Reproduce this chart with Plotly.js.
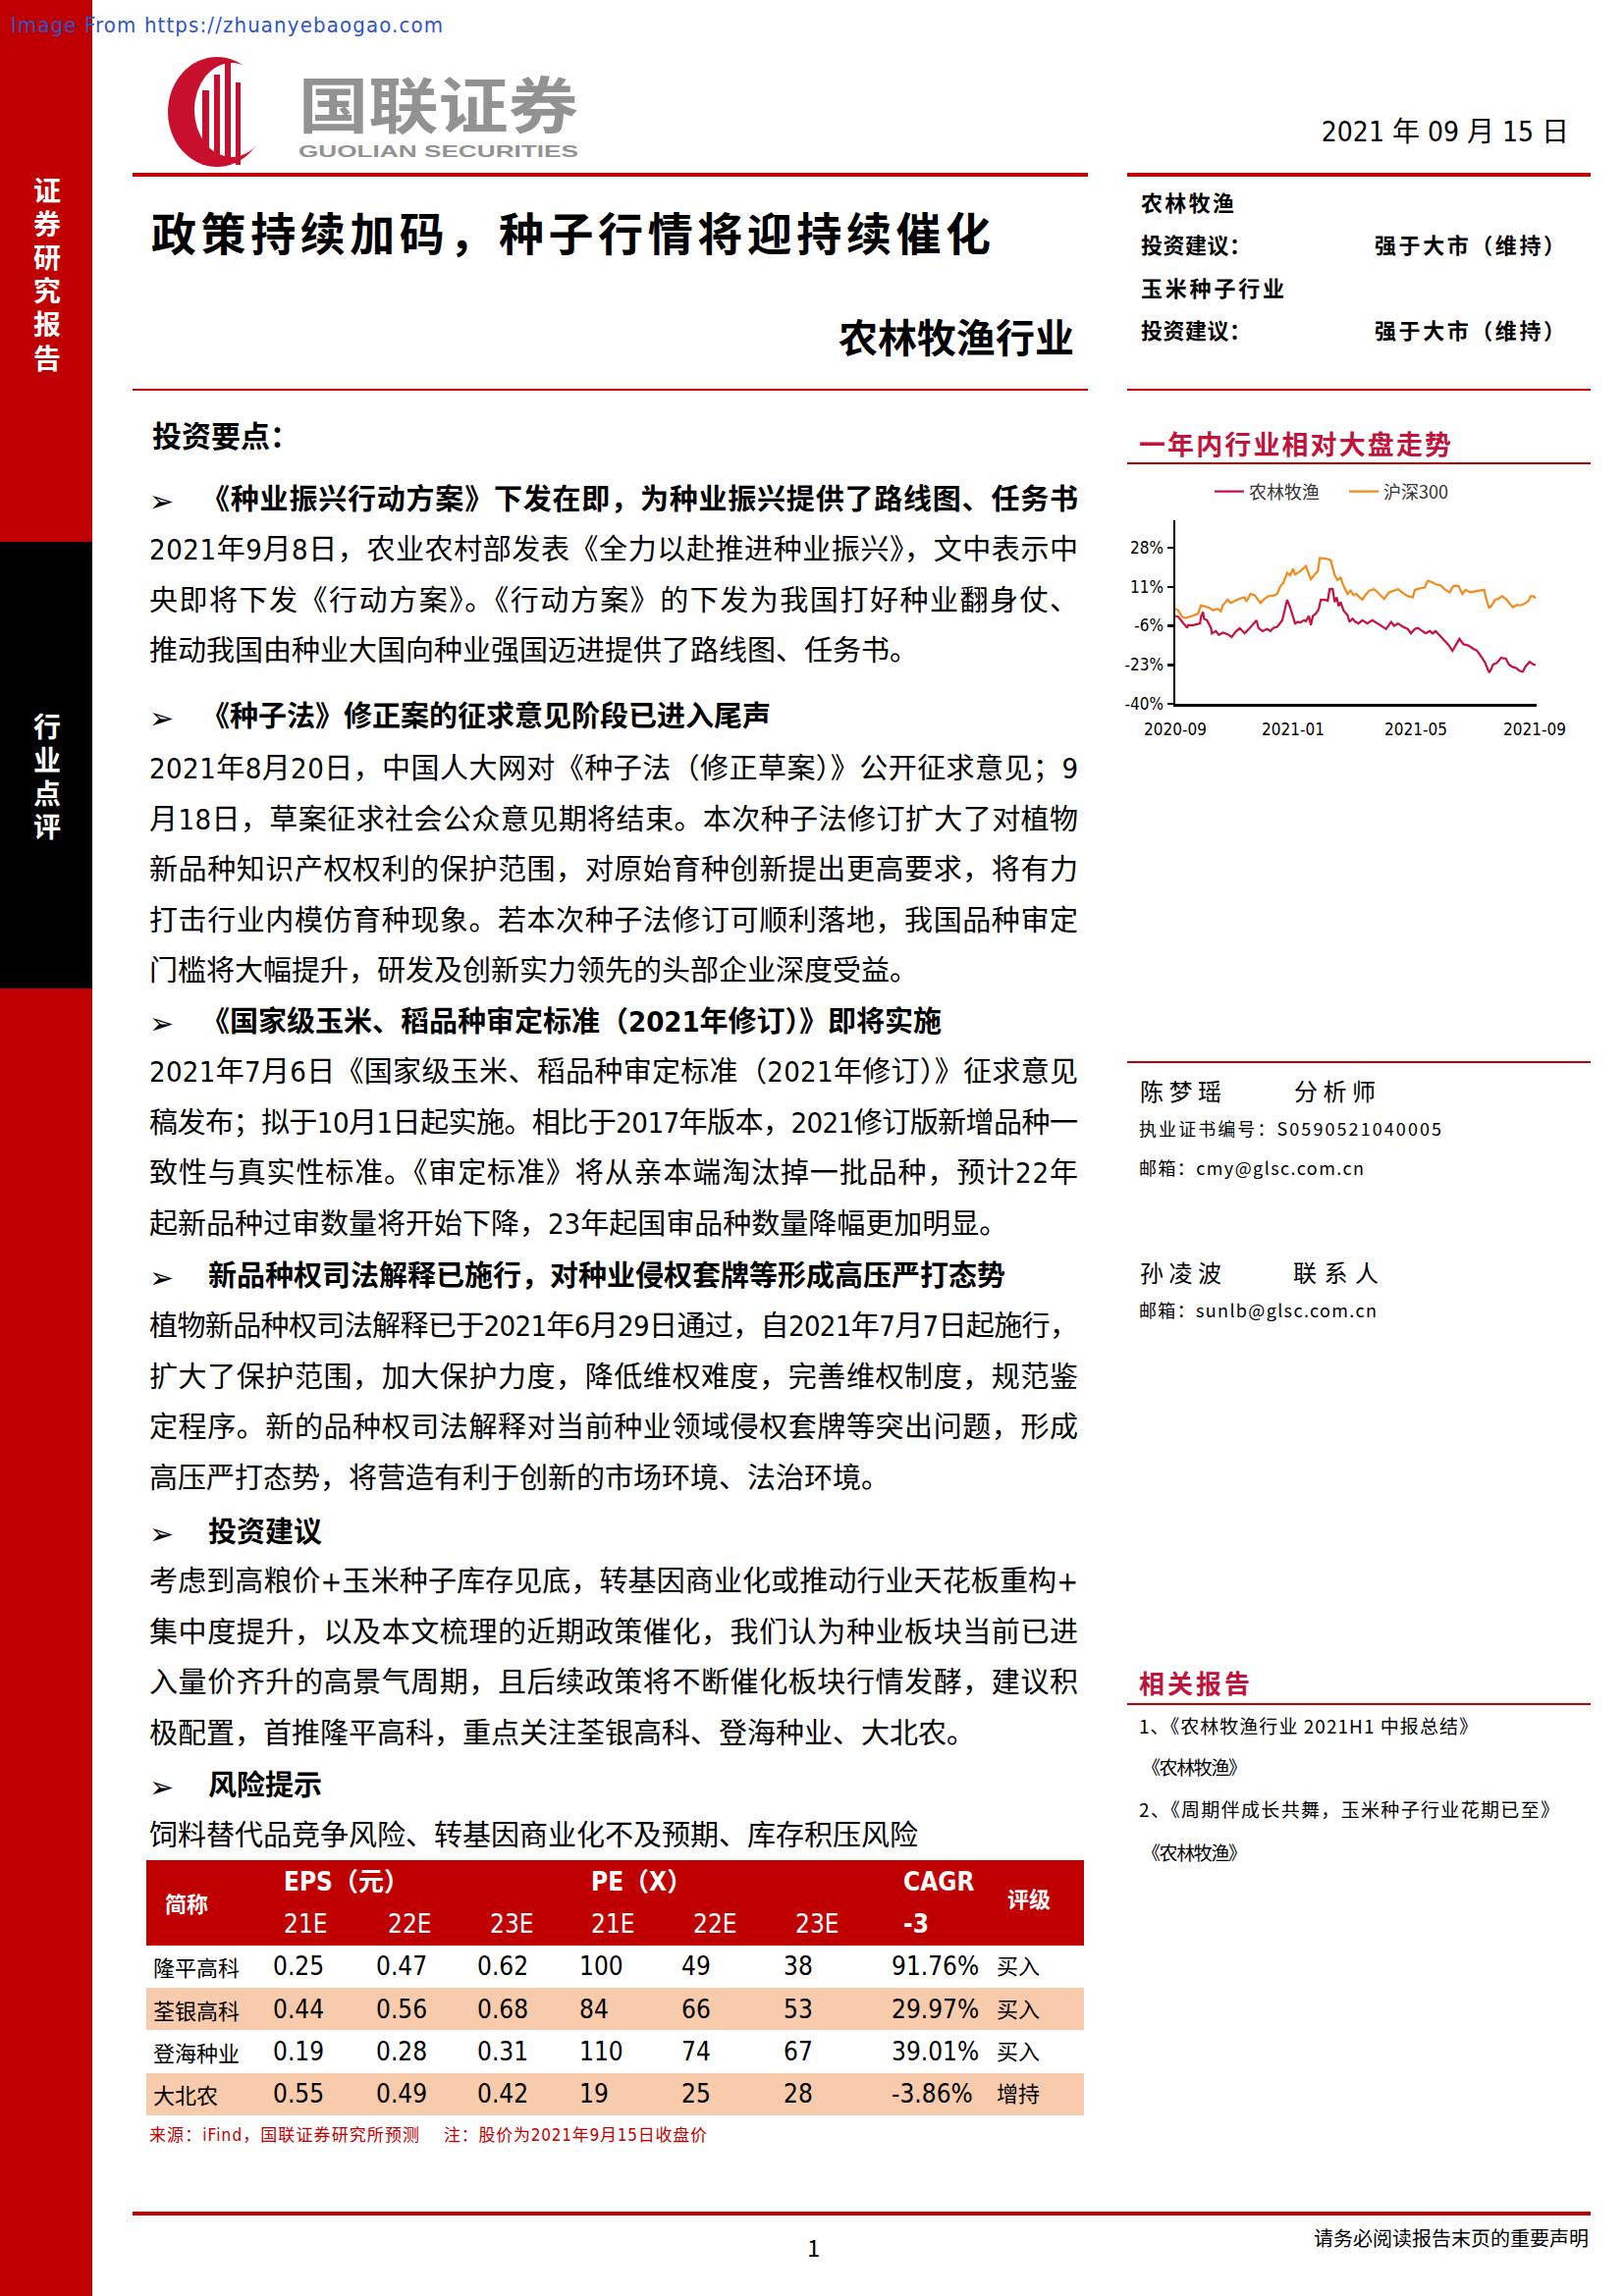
<!DOCTYPE html>
<html>
<head>
<meta charset="utf-8">
<script src="https://cdn.plot.ly/plotly-3.0.1.min.js"></script>
<style>
html, body { margin: 0; padding: 0; background: #fff; }
body { width: 1654px; height: 2339px; position: relative; overflow: hidden;
       font-family: "Liberation Sans Narrow", "Noto Sans CJK SC", sans-serif; color: #000; }
.t { position: absolute; white-space: nowrap; }
.bar { position: absolute; }
.vert { position: absolute; writing-mode: vertical-rl; color: #fff; font-weight: 700;
        font-family: "Noto Sans CJK SC", sans-serif; font-size: 28px; line-height: 28px; white-space: nowrap; }
#chart { position: absolute; left: 1120px; top: 485px; width: 510px; height: 290px; }
</style>
</head>
<body>
<div class="bar" style="left:0;top:0;width:94px;height:2339px;background:#c00000"></div>
<div class="bar" style="left:0;top:552px;width:94px;height:455px;background:#000"></div>
<div class="bar" style="left:135px;top:176px;width:973px;height:4px;background:#c00000"></div>
<div class="bar" style="left:1148px;top:176px;width:472px;height:4px;background:#c00000"></div>
<div class="bar" style="left:135px;top:396px;width:973px;height:2px;background:#c00000"></div>
<div class="bar" style="left:1148px;top:396px;width:472px;height:2px;background:#c00000"></div>
<div class="bar" style="left:1148px;top:471px;width:472px;height:2px;background:#c00000"></div>
<div class="bar" style="left:1148px;top:1081px;width:472px;height:2px;background:#c00000"></div>
<div class="bar" style="left:1148px;top:1735px;width:472px;height:2px;background:#c00000"></div>
<div class="bar" style="left:135px;top:2253px;width:1485px;height:4px;background:#c00000"></div>

<div class="vert" style="left:34px;top:180px;letter-spacing:6.2px">证券研究报告</div>
<div class="vert" style="left:34px;top:726px;letter-spacing:6px">行业点评</div>

<svg style="position:absolute;left:150px;top:50px" width="460" height="130" viewBox="150 50 460 130">
  <ellipse cx="221" cy="114" rx="50" ry="56" fill="#c8102e"/>
  <ellipse cx="236" cy="112" rx="38" ry="48" fill="#fff"/>
  <rect x="206" y="92" width="7" height="76" fill="#c8102e"/>
  <rect x="218" y="76" width="6" height="92" fill="#c8102e"/>
  <rect x="229" y="60" width="6" height="108" fill="#c8102e"/>
  <rect x="240" y="84" width="5" height="84" fill="#c8102e"/>
  <text x="304" y="131" font-family="Noto Sans CJK SC" font-weight="700" font-size="62"
        fill="#929292" textLength="285" lengthAdjust="spacingAndGlyphs">国联证券</text>
  <text x="304" y="160" font-family="Liberation Sans" font-weight="700" font-size="16"
        fill="#929292" textLength="285" lengthAdjust="spacingAndGlyphs">GUOLIAN SECURITIES</text>
</svg>

<div id="chart"></div>

<script>
// ---- chart data (percent, relative performance) ----
const redDates = [
  "2020-09-16","2020-09-19","2020-09-23","2020-09-28","2020-09-29","2020-10-04","2020-10-11","2020-10-12","2020-10-14","2020-10-15",
  "2020-10-18","2020-10-22","2020-10-23","2020-10-27","2020-10-30","2020-11-03","2020-11-08","2020-11-12","2020-11-16","2020-11-20",
  "2020-11-23","2020-11-25","2020-11-30","2020-12-03","2020-12-07","2020-12-09","2020-12-13","2020-12-18","2020-12-21","2020-12-24",
  "2020-12-28","2021-01-02","2021-01-04","2021-01-07","2021-01-10","2021-01-13","2021-01-15","2021-01-18","2021-01-20","2021-01-24",
  "2021-01-26","2021-01-29","2021-01-31","2021-02-02","2021-02-05","2021-02-08","2021-02-10","2021-02-14","2021-02-17","2021-02-19",
  "2021-02-22","2021-02-24","2021-02-26","2021-02-28","2021-03-02","2021-03-05","2021-03-09","2021-03-11","2021-03-14","2021-03-17",
  "2021-03-20","2021-03-24","2021-03-29","2021-04-03","2021-04-06","2021-04-11","2021-04-17","2021-04-22","2021-04-25","2021-04-29",
  "2021-05-04","2021-05-09","2021-05-12","2021-05-16","2021-05-19","2021-05-24","2021-05-27","2021-05-31","2021-06-03","2021-06-06",
  "2021-06-11","2021-06-15","2021-06-19","2021-06-23","2021-06-26","2021-06-30","2021-07-04","2021-07-09","2021-07-13","2021-07-18",
  "2021-07-23","2021-07-26","2021-07-30","2021-08-01","2021-08-03","2021-08-07","2021-08-11","2021-08-16","2021-08-19","2021-08-23",
  "2021-08-26","2021-08-30","2021-09-02","2021-09-05","2021-09-09","2021-09-13","2021-09-15"
];
const redVals = [
  -1.7, -2.1, -4.3, -6.9, -5.7, -5.7, -5.0, -2.1, 0.0, -2.9,
  -3.6, -6.9, -9.3, -8.3, -10.0, -9.0, -9.7, -10.9, -8.6, -7.1,
  -8.3, -9.3, -7.1, -5.7, -3.6, -6.9, -8.3, -7.4, -8.3, -6.9,
  -6.4, -3.6, 0.0, 5.3, 2.1, -2.1, -5.0, -4.3, -4.6, -3.6,
  -4.0, -1.7, -5.7, -1.7, -0.7, 1.4, 5.4, 5.3, 5.0, 10.0,
  10.0, 4.3, 6.4, 2.6, 4.3, 0.7, -1.4, -4.3, -2.9, -4.3,
  -5.0, -3.6, -5.0, -3.6, -4.3, -5.7, -7.4, -4.3, -6.0, -5.0,
  -6.4, -7.4, -9.3, -7.4, -6.9, -8.3, -9.3, -8.3, -9.3, -8.3,
  -10.7, -12.6, -14.3, -16.9, -14.6, -11.7, -14.0, -14.6, -15.7, -16.9,
  -20.0, -22.1, -26.4, -25.0, -22.9, -22.1, -20.0, -20.3, -22.9, -24.0,
  -24.3, -25.7, -26.0, -23.6, -21.7, -22.9, -23.1
];
const orangeDates = [
  "2020-09-16","2020-09-19","2020-09-23","2020-09-26","2020-10-03","2020-10-09","2020-10-12","2020-10-18","2020-10-21","2020-10-24",
  "2020-10-29","2020-11-01","2020-11-03","2020-11-08","2020-11-11","2020-11-16","2020-11-21","2020-11-25","2020-11-27","2020-12-01",
  "2020-12-05","2020-12-08","2020-12-11","2020-12-15","2020-12-19","2020-12-24","2020-12-28","2020-12-31","2021-01-03","2021-01-07",
  "2021-01-10","2021-01-13","2021-01-15","2021-01-19","2021-01-22","2021-01-26","2021-01-29","2021-01-31","2021-02-04","2021-02-07",
  "2021-02-09","2021-02-15","2021-02-20","2021-02-24","2021-02-27","2021-03-02","2021-03-05","2021-03-09","2021-03-12","2021-03-15",
  "2021-03-18","2021-03-20","2021-03-24","2021-03-27","2021-03-31","2021-04-05","2021-04-10","2021-04-15","2021-04-20","2021-04-25",
  "2021-04-29","2021-05-04","2021-05-09","2021-05-14","2021-05-16","2021-05-21","2021-05-26","2021-05-29","2021-06-02","2021-06-06",
  "2021-06-11","2021-06-15","2021-06-20","2021-06-24","2021-06-29","2021-07-03","2021-07-06","2021-07-11","2021-07-16","2021-07-21",
  "2021-07-25","2021-07-27","2021-07-30","2021-08-02","2021-08-05","2021-08-08","2021-08-12","2021-08-16","2021-08-20","2021-08-23",
  "2021-08-27","2021-08-31","2021-09-05","2021-09-08","2021-09-10","2021-09-13","2021-09-15"
];
const orangeVals = [
  1.4, 0.7, -2.1, -2.6, -1.7, -0.7, 2.9, 2.1, 1.7, 0.7,
  1.4, 0.3, 2.9, 5.4, 4.0, 5.0, 6.0, 6.4, 4.6, 7.9,
  7.4, 5.7, 3.9, 5.7, 6.9, 7.1, 7.9, 11.1, 12.6, 17.1,
  16.0, 18.9, 16.4, 17.4, 18.6, 20.0, 16.4, 14.3, 16.4, 17.9,
  23.6, 23.3, 22.6, 16.0, 14.0, 15.0, 11.4, 7.9, 9.3, 7.4,
  7.9, 6.9, 5.4, 7.4, 9.3, 10.0, 7.9, 5.7, 8.6, 9.3,
  10.0, 8.3, 6.9, 6.4, 9.7, 10.3, 10.7, 13.6, 13.1, 12.1,
  11.7, 10.0, 8.6, 11.4, 11.4, 7.9, 9.7, 8.6, 8.9, 9.3,
  9.7, 6.0, 1.7, 3.1, 5.4, 5.7, 6.9, 5.7, 3.6, 2.1,
  3.1, 2.9, 3.9, 5.0, 6.9, 6.9, 6.0
];
const seriesNames = ["农林牧渔", "沪深300"];
const yTickVals = [-40, -23, -6, 11, 28];
const yTickText = ["-40%", "-23%", "-6%", "11%", "28%"];
const yGridVals = [-20, 0, 20, 40];
const xLabelVals = ["2020-09-16", "2021-01-13", "2021-05-17", "2021-09-14"];
const xLabelText = ["2020-09", "2021-01", "2021-05", "2021-09"];
const xTickVals = ["2021-01-01", "2021-05-01", "2021-09-01"];

// ---- table data ----
const stockNames = ["隆平高科", "荃银高科", "登海种业", "大北农"];
const eps21 = ["0.25", "0.44", "0.19", "0.55"];
const eps22 = ["0.47", "0.56", "0.28", "0.49"];
const eps23 = ["0.62", "0.68", "0.31", "0.42"];
const pe21 = ["100", "84", "110", "19"];
const pe22 = ["49", "66", "74", "25"];
const pe23 = ["38", "53", "67", "28"];
const cagr = ["91.76%", "29.97%", "39.01%", "-3.86%"];
const ratings = ["买入", "买入", "买入", "增持"];

const CJK = '"Noto Sans CJK SC", sans-serif';
const NARROW = '"Liberation Sans Narrow", "DejaVu Sans Condensed", "Noto Sans CJK SC", sans-serif';

function txt(s, x, yc, size, css, w) {
    let d = document.createElement("div");
    d.className = "t";
    d.textContent = s;
    d.style.left = x + "px";
    d.style.top = (yc - size * 0.55) + "px";
    d.style.fontSize = size + "px";
    d.style.lineHeight = (size * 1.1) + "px";
    if (css) d.style.cssText += css;
    if (w) d.dataset.w = w;
    document.body.appendChild(d);
    return d;
}

function rightTxt(s, xr, yc, size, css) {
    let d = txt(s, 0, yc, size, css);
    d.style.left = (xr - d.getBoundingClientRect().width) + "px";
    return d;
}

// watermark
txt("Image From https://zhuanyebaogao.com", 11, 26, 22, "color:#2f55c8;font-family:" + NARROW, 440);

// header
rightTxt("2021 年 09 月 15 日", 1598, 135, 28, "font-family:" + NARROW);
txt("政策持续加码，种子行情将迎持续催化", 154, 235, 46, "font-weight:700;font-family:" + CJK, 855);
rightTxt("农林牧渔行业", 1094, 342, 40, "font-weight:700;font-family:" + CJK);

const B = "font-weight:700;font-family:" + CJK;
txt("农林牧渔", 1162, 205, 22, B, 95);
txt("投资建议：", 1162, 248, 22, B, 112);
txt("强于大市（维持）", 1400, 248, 22, B, 194);
txt("玉米种子行业", 1162, 292, 22, B, 146);
txt("投资建议：", 1162, 335, 22, B, 112);
txt("强于大市（维持）", 1400, 335, 22, B, 194);

txt("一年内行业相对大盘走势", 1160, 452, 27, "color:#c0143c;" + B, 318);

// analyst block
const R = "font-family:" + CJK;
txt("陈梦瑶", 1161, 1111, 24, R, 83);
txt("分析师", 1318, 1111, 24, R, 83);
txt("执业证书编号：S0590521040005", 1160, 1150, 18, R, 308);
txt("邮箱：cmy@glsc.com.cn", 1160, 1190, 18, R, 229);
txt("孙凌波", 1161, 1296, 24, R, 83);
txt("联系人", 1317, 1296, 24, R, 87);
txt("邮箱：sunlb@glsc.com.cn", 1160, 1335, 18, R, 242);

txt("相关报告", 1160, 1714, 26, "color:#c0143c;" + B, 113);
txt("1、《农林牧渔行业 2021H1 中报总结》", 1160, 1758, 19, R, 345);
txt("《农林牧渔》", 1163, 1800, 19, R, 107);
txt("2、《周期伴成长共舞，玉米种子行业花期已至》", 1160, 1843, 19, R, 428);
txt("《农林牧渔》", 1163, 1887, 19, R, 107);

// body
const BODY = "font-family:" + NARROW;
const HEAD = "font-weight:700;font-family:" + NARROW;
txt("投资要点：", 155, 444, 30, HEAD);

function heading(s, yc, w) {
    txt("➢", 152, yc, 30, "font-family:'DejaVu Sans'");
    txt(s, s.charAt(0) === "《" ? 205 : 212, yc, 29, HEAD, w);
}
function lines(arr, y0) {
    arr.forEach(function (s, i) {
        txt(s, 152, y0 + i * 51.6, 29, BODY, i < arr.length - 1 ? 946 : null);
    });
}

heading("《种业振兴行动方案》下发在即，为种业振兴提供了路线图、任务书", 510, 893);
lines(["2021年9月8日，农业农村部发表《全力以赴推进种业振兴》，文中表示中",
       "央即将下发《行动方案》。《行动方案》的下发为我国打好种业翻身仗、",
       "推动我国由种业大国向种业强国迈进提供了路线图、任务书。"], 561);

heading("《种子法》修正案的征求意见阶段已进入尾声", 731);
lines(["2021年8月20日，中国人大网对《种子法（修正草案）》公开征求意见；9",
       "月18日，草案征求社会公众意见期将结束。本次种子法修订扩大了对植物",
       "新品种知识产权权利的保护范围，对原始育种创新提出更高要求，将有力",
       "打击行业内模仿育种现象。若本次种子法修订可顺利落地，我国品种审定",
       "门槛将大幅提升，研发及创新实力领先的头部企业深度受益。"], 784);

heading("《国家级玉米、稻品种审定标准（2021年修订）》即将实施", 1042);
lines(["2021年7月6日《国家级玉米、稻品种审定标准（2021年修订）》征求意见",
       "稿发布；拟于10月1日起实施。相比于2017年版本，2021修订版新增品种一",
       "致性与真实性标准。《审定标准》将从亲本端淘汰掉一批品种，预计22年",
       "起新品种过审数量将开始下降，23年起国审品种数量降幅更加明显。"], 1093);

heading("新品种权司法解释已施行，对种业侵权套牌等形成高压严打态势", 1301);
lines(["植物新品种权司法解释已于2021年6月29日通过，自2021年7月7日起施行，",
       "扩大了保护范围，加大保护力度，降低维权难度，完善维权制度，规范鉴",
       "定程序。新的品种权司法解释对当前种业领域侵权套牌等突出问题，形成",
       "高压严打态势，将营造有利于创新的市场环境、法治环境。"], 1352);

heading("投资建议", 1562);
lines(["考虑到高粮价+玉米种子库存见底，转基因商业化或推动行业天花板重构+",
       "集中度提升，以及本文梳理的近期政策催化，我们认为种业板块当前已进",
       "入量价齐升的高景气周期，且后续政策将不断催化板块行情发酵，建议积",
       "极配置，首推隆平高科，重点关注荃银高科、登海种业、大北农。"], 1612);

heading("风险提示", 1820);
lines(["饲料替代品竞争风险、转基因商业化不及预期、库存积压风险"], 1871);

// table
function band(top, h, color) {
    let d = document.createElement("div");
    d.className = "bar";
    d.style.cssText = "left:149px;width:955px;top:" + top + "px;height:" + h + "px;background:" + color;
    document.body.appendChild(d);
}
band(1895, 87, "#c00000");
band(2025, 43, "#f8cbad");
band(2112, 43, "#f8cbad");

const HW = "color:#fff;font-family:" + NARROW;
txt("简称", 168, 1938, 22, "color:#fff;font-weight:700;font-family:" + CJK);
txt("EPS（元）", 289, 1917, 26, "font-weight:700;" + HW);
txt("PE（X）", 602, 1917, 26, "font-weight:700;" + HW);
txt("CAGR", 920, 1917, 26, "font-weight:700;" + HW);
txt("-3", 920, 1960, 26, "font-weight:700;" + HW);
txt("评级", 1026, 1933, 22, "color:#fff;font-weight:700;font-family:" + CJK);
["21E", "22E", "23E", "21E", "22E", "23E"].forEach(function (s, i) {
    txt(s, [289, 395, 499, 602, 706, 810][i], 1960, 26, HW);
});

const rowY = [2003, 2047, 2090, 2133];
const valCols = [eps21, eps22, eps23, pe21, pe22, pe23, cagr];
const valX = [278, 383, 486, 590, 694, 798, 908];
stockNames.forEach(function (name, r) {
    txt(name, 156, rowY[r], 22, "font-family:" + CJK);
    valCols.forEach(function (col, c) {
        txt(col[r], valX[c], rowY[r], 26, "font-family:" + NARROW);
    });
    txt(ratings[r], 1015, rowY[r] - 2, 22, "font-family:" + CJK);
});

txt("来源：iFind，国联证券研究所预测", 152, 2175, 17, "color:#c00000;font-family:" + NARROW, 275);
txt("注：股价为2021年9月15日收盘价", 452, 2175, 17, "color:#c00000;font-family:" + NARROW, 268);

// footer
txt("1", 822, 2289, 24, "font-family:" + CJK);
rightTxt("请务必阅读报告末页的重要声明", 1618, 2280, 20, "font-family:" + CJK);

// spread letters so each line fills its measured width
function fit() {
    document.querySelectorAll("[data-w]").forEach(function (el) {
        el.style.letterSpacing = "0px";
        let w = el.getBoundingClientRect().width;
        let n = Array.from(el.textContent).length;
        if (n > 1) el.style.letterSpacing = ((+el.dataset.w - w) / (n - 1)) + "px";
    });
}
fit();
document.fonts.ready.then(fit);

// ---- relative performance chart ----
let chartData = [
    { x: redDates, y: redVals, name: seriesNames[0], type: "scatter", mode: "lines",
      line: { color: "#c8103c", width: 2.2 }, hoverinfo: "skip" },
    { x: orangeDates, y: orangeVals, name: seriesNames[1], type: "scatter", mode: "lines",
      line: { color: "#f28a1c", width: 2.2 }, hoverinfo: "skip" }
];

let axisFont = { family: "Liberation Sans Narrow, DejaVu Sans Condensed, Liberation Sans, sans-serif", size: 17, color: "#000" };
let xRange = ["2020-09-16", "2021-09-16"];

let chartLayout = {
    width: 510, height: 290,
    margin: { l: 77, r: 65, t: 45, b: 58, autoexpand: false },
    paper_bgcolor: "rgba(0,0,0,0)",
    plot_bgcolor: "rgba(0,0,0,0)",
    showlegend: true,
    legend: {
        orientation: "h", x: 0.095, xanchor: "left", y: 1.155, yanchor: "middle",
        font: { family: "Liberation Sans Narrow, Noto Sans CJK SC, sans-serif", size: 18, color: "#333" },
        entrywidth: 92, bgcolor: "rgba(0,0,0,0)"
    },
    xaxis: {
        type: "date", range: xRange, tickmode: "array", tickvals: xLabelVals, ticktext: xLabelText,
        ticks: "outside", ticklen: 9, tickcolor: "rgba(0,0,0,0)",
        showline: true, linecolor: "#000", linewidth: 2.5, showgrid: false, zeroline: false,
        tickfont: axisFont
    },
    xaxis2: {
        type: "date", range: xRange, overlaying: "x", anchor: "y", side: "bottom",
        tickmode: "array", tickvals: xTickVals, ticks: "outside", ticklen: 6, tickwidth: 2.5, tickcolor: "#000",
        showticklabels: false, showgrid: false, showline: false, zeroline: false
    },
    yaxis: {
        range: [-40, 40], tickmode: "array", tickvals: yTickVals, ticktext: yTickText,
        ticks: "outside", ticklen: 6, tickwidth: 2.5, tickcolor: "#000",
        showline: true, linecolor: "#000", linewidth: 2.5, showgrid: false, zeroline: false,
        tickfont: axisFont
    },
    yaxis2: {
        range: [-40, 40], overlaying: "y", anchor: "x", side: "left",
        tickmode: "array", tickvals: yGridVals, showticklabels: false, ticks: "",
        showgrid: true, gridcolor: "#dcdcdc", gridwidth: 2.5, showline: false, zeroline: false
    }
};

Plotly.newPlot("chart", chartData, chartLayout, { staticPlot: true, displayModeBar: false });
</script>
</body>
</html>
